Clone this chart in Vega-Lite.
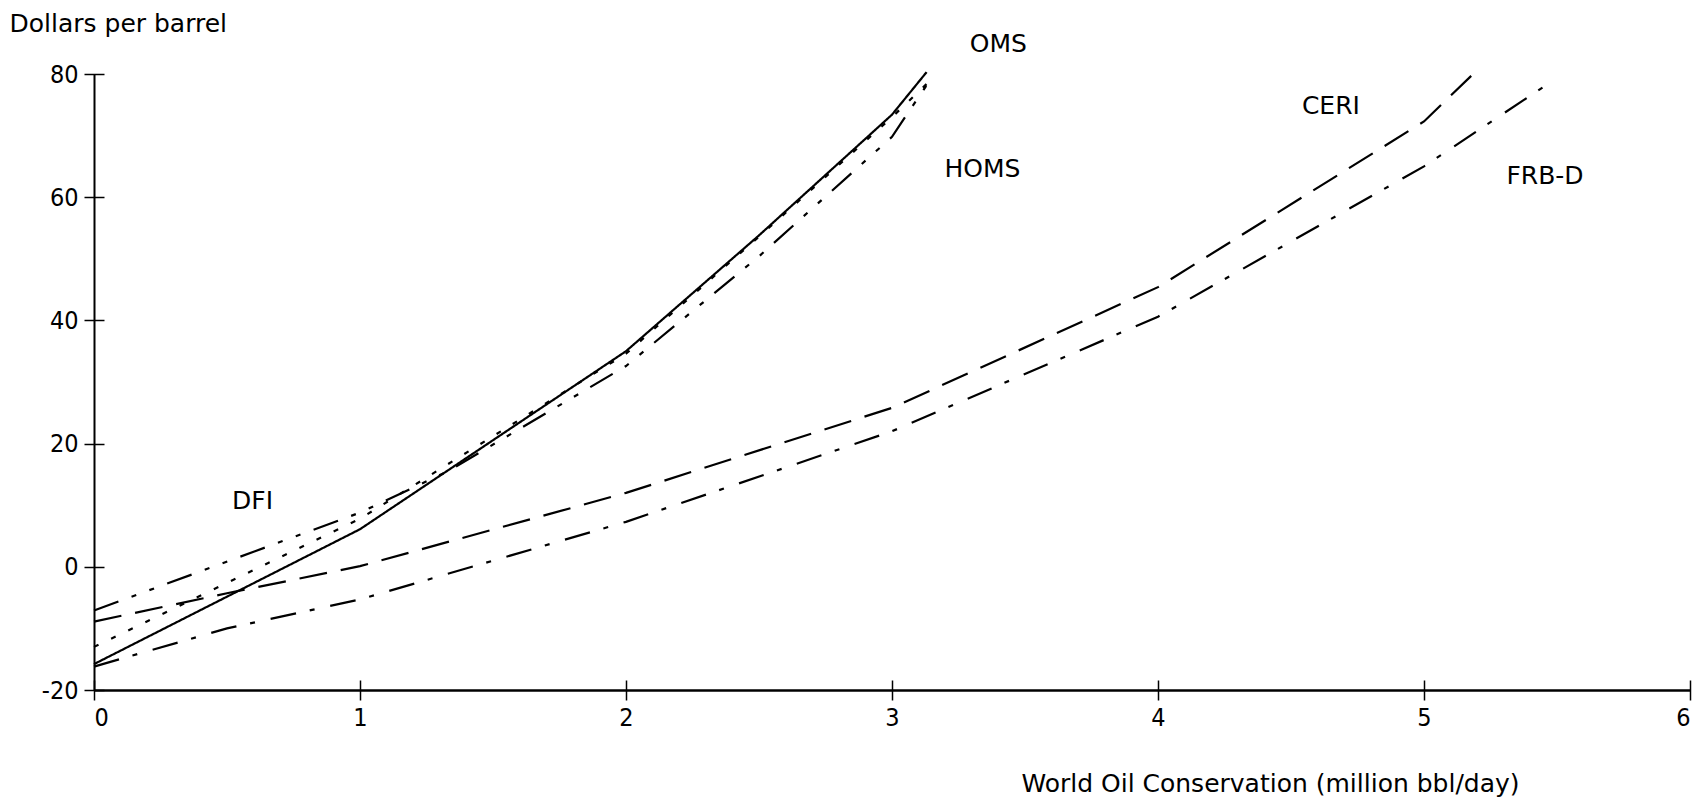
{
  "$schema": "https://vega.github.io/schema/vega-lite/v6.json",
  "width": 1596,
  "height": 616,
  "autosize": {"type": "none"},
  "padding": {"left": 94, "top": 74, "right": 9, "bottom": 114},
  "background": "white",
  "config": {
    "view": {"stroke": null},
    "font": "DejaVu Sans",
    "axis": {"grid": false, "domainColor": "black", "tickColor": "black", "labelColor": "black", "titleColor": "black", "labelFont": "Liberation Sans Narrow, DejaVu Sans Condensed, DejaVu Sans", "titleFont": "DejaVu Sans"}
  },
  "datasets": {
    "curves": [
      {"model": "OMS", "conservation": 0, "price": -15.8},
      {"model": "OMS", "conservation": 1, "price": 6.1},
      {"model": "OMS", "conservation": 2, "price": 35},
      {"model": "OMS", "conservation": 2.5, "price": 53.8},
      {"model": "OMS", "conservation": 3, "price": 73.4},
      {"model": "OMS", "conservation": 3.13, "price": 80.3},
      {"model": "HOMS", "conservation": 0, "price": -13},
      {"model": "HOMS", "conservation": 1, "price": 7.8},
      {"model": "HOMS", "conservation": 2, "price": 34.6},
      {"model": "HOMS", "conservation": 2.5, "price": 53.6},
      {"model": "HOMS", "conservation": 3, "price": 73},
      {"model": "HOMS", "conservation": 3.16, "price": 79.6},
      {"model": "DFI", "conservation": 0, "price": -7.1},
      {"model": "DFI", "conservation": 1, "price": 8.8},
      {"model": "DFI", "conservation": 1.33, "price": 15.5},
      {"model": "DFI", "conservation": 2, "price": 32.6},
      {"model": "DFI", "conservation": 2.5, "price": 50.4},
      {"model": "DFI", "conservation": 3, "price": 69.8},
      {"model": "DFI", "conservation": 3.06, "price": 73.7},
      {"model": "DFI", "conservation": 3.14, "price": 78.8},
      {"model": "CERI", "conservation": 0, "price": -8.9},
      {"model": "CERI", "conservation": 0.5, "price": -4.3},
      {"model": "CERI", "conservation": 1, "price": 0.1},
      {"model": "CERI", "conservation": 2, "price": 12},
      {"model": "CERI", "conservation": 3, "price": 25.8},
      {"model": "CERI", "conservation": 4, "price": 45.4},
      {"model": "CERI", "conservation": 5, "price": 72.3},
      {"model": "CERI", "conservation": 5.18, "price": 79.8},
      {"model": "FRB-D", "conservation": 0, "price": -16.2},
      {"model": "FRB-D", "conservation": 0.5, "price": -10},
      {"model": "FRB-D", "conservation": 1, "price": -5.3},
      {"model": "FRB-D", "conservation": 2, "price": 7.3},
      {"model": "FRB-D", "conservation": 3, "price": 22},
      {"model": "FRB-D", "conservation": 4, "price": 40.6},
      {"model": "FRB-D", "conservation": 5, "price": 65},
      {"model": "FRB-D", "conservation": 5.47, "price": 78.5}
    ],
    "labels": [
      {"model": "OMS", "conservation": 3.4, "price": 84.8},
      {"model": "HOMS", "conservation": 3.34, "price": 64.6},
      {"model": "CERI", "conservation": 4.65, "price": 74.8},
      {"model": "FRB-D", "conservation": 5.455, "price": 63.4},
      {"model": "DFI", "conservation": 0.596, "price": 10.7}
    ]
  },
  "layer": [
    {
      "data": {"name": "curves"},
      "mark": {"type": "line", "color": "black", "strokeWidth": 2.2},
      "encoding": {
        "x": {
          "field": "conservation", "type": "quantitative",
          "scale": {"domain": [0, 6], "nice": false, "zero": false},
          "axis": {
            "orient": "bottom", "offset": -10,
            "values": [0, 1, 2, 3, 4, 5, 6], "format": "d",
            "domain": false, "tickWidth": 1.5, "tickSize": 20,
            "labelFontSize": 25, "labelPadding": 5,
            "title": "World Oil Conservation (million bbl/day)",
            "titleFontSize": 25, "titleFontWeight": "normal",
            "titleAnchor": null, "titleAlign": "center", "titleBaseline": "alphabetic",
            "titleX": 1176, "titleY": 111
          }
        },
        "y": {
          "field": "price", "type": "quantitative",
          "scale": {"domain": [-20, 80], "nice": false, "zero": false},
          "axis": {
            "orient": "left", "offset": -10,
            "values": [-20, 0, 20, 40, 60, 80],
            "labelExpr": "toString(datum.value)",
            "domain": false, "tickWidth": 1.5, "tickSize": 20,
            "labelFontSize": 25, "labelPadding": 6,
            "title": "Dollars per barrel",
            "titleFontSize": 25, "titleFontWeight": "normal",
            "titleAngle": 0, "titleAlign": "left", "titleBaseline": "alphabetic",
            "titleX": -95, "titleY": -43
          }
        },
        "strokeDash": {
          "field": "model", "type": "nominal",
          "scale": {
            "domain": ["OMS", "HOMS", "DFI", "CERI", "FRB-D"],
            "range": [[1, 0], [5, 14], [26, 14, 5, 14, 5, 14], [28, 14], [26, 14, 5, 16]]
          },
          "legend": null
        }
      }
    },
    {
      "data": {"name": "labels"},
      "mark": {"type": "text", "fontSize": 25, "color": "black", "align": "center", "baseline": "middle"},
      "encoding": {
        "x": {
          "field": "conservation", "type": "quantitative",
          "scale": {"domain": [0, 6], "nice": false, "zero": false},
          "axis": {"orient": "bottom", "ticks": false, "labels": false, "domain": true, "domainWidth": 2.5, "title": null}
        },
        "y": {
          "field": "price", "type": "quantitative",
          "scale": {"domain": [-20, 80], "nice": false, "zero": false},
          "axis": {"orient": "left", "ticks": false, "labels": false, "domain": true, "domainWidth": 2, "title": null}
        },
        "text": {"field": "model", "type": "nominal"}
      }
    }
  ],
  "resolve": {"axis": {"x": "independent", "y": "independent"}}
}
